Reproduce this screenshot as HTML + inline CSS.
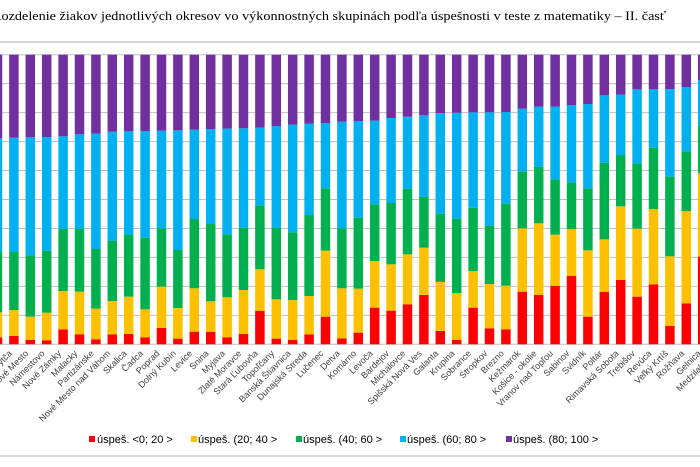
<!DOCTYPE html>
<html><head><meta charset="utf-8"><style>
html,body{margin:0;padding:0;background:#fff;width:700px;height:467px;overflow:hidden}
svg{display:block}
</style></head><body>
<svg id="c" width="700" height="467" xmlns="http://www.w3.org/2000/svg">
<text x="-8" y="20" font-family="Liberation Serif, serif" font-size="13" fill="#000" textLength="674" lengthAdjust="spacingAndGlyphs">Rozdelenie žiakov jednotlivých okresov vo výkonnostných skupinách podľa úspešnosti v teste z matematiky – II. časť</text>
<line x1="0" y1="42" x2="700" y2="42" stroke="#c8c8c8" stroke-width="1.5"/>
<line x1="0" y1="456" x2="700" y2="456" stroke="#c8c8c8" stroke-width="1.5"/>
<g id="grid"></g>
<g id="bars"></g>
<g id="labels" font-family="Liberation Sans, sans-serif" font-size="9" fill="#404040"></g>
<g font-family="Liberation Sans, sans-serif" font-size="11" fill="#000">
<rect x="89" y="436" width="6" height="6" fill="#ff0000"/><text x="97" y="443">úspeš. &lt;0; 20 &gt;</text>
<rect x="191" y="436" width="6" height="6" fill="#ffc000"/><text x="198" y="443">úspeš. (20; 40 &gt;</text>
<rect x="296" y="436" width="6" height="6" fill="#00b050"/><text x="303" y="443">úspeš. (40; 60 &gt;</text>
<rect x="400" y="436" width="6" height="6" fill="#00b0f0"/><text x="407" y="443">úspeš. (60; 80 &gt;</text>
<rect x="506" y="436" width="6" height="6" fill="#7030a0"/><text x="513" y="443">úspeš. (80; 100 &gt;</text>
</g>
</svg>
<script>
(function(){
var d=[[862,787,605,265],[858,780,606,263],[870,800,616,262],[871,788,602,261],[838,723,537,259],[853,725,536,253],[868,776,597,251],[853,753,572,245],[852,740,555,244],[862,778,563,243],[834,710,535,242],[866,774,600,241],
[845,715,507,239],[846,754,522,237],[862,742,553,236],[852,720,533,235],[783,658,466,233],[866,748,534,228],[870,750,547,224],[853,738,495,221],[800,602,415,219],[865,715,535,215],
[848,716,503,213],[773,633,463,212],[782,643,459,204],[763,613,416,200],[735,593,440,196],[843,696,491,189],[870,729,506,188],[773,663,473,187],[835,702,527,187],[838,707,461,186],[725,535,364,176],
[735,520,350,170],[708,554,388,170],[678,537,397,165],[800,601,415,162],[726,568,338,136],[690,469,315,134],[740,536,340,118],[703,477,293,118],[828,619,380,117],[760,483,304,111],[620,370,226,90]];
var names=["Bytča","Kysucké Nové Mesto","Námestovo","Nové Zámky","Malacky","Partizánske","Nové Mesto nad Váhom","Skalica","Čadca","Poprad","Dolný Kubín","Levice","Snina","Myjava","Zlaté Moravce","Stará Ľubovňa","Topoľčany","Banská Štiavnica","Dunajská Streda","Lučenec","Detva","Komárno","Levoča","Bardejov","Michalovce","Spišská Nová Ves","Galanta","Krupina","Sobrance","Stropkov","Brezno","Kežmarok","Košice - okolie","Vranov nad Topľou","Sabinov","Svidník","Poltár","Rimavská Sobota","Trebišov","Revúca","Veľký Krtíš","Rožňava","Gelnica","Medzilaborce"];
var NS="http://www.w3.org/2000/svg",g=document.getElementById('grid'),b=document.getElementById('bars'),L=document.getElementById('labels');
function el(p,t,a){var e=document.createElementNS(NS,t);for(var k in a)e.setAttribute(k,a[k]);p.appendChild(e);return e;}
var T=54.7,B=344.3,st=(B-T)/10;
for(var k=0;k<=10;k++){var y=T+st*k;el(g,'line',{x1:0,x2:700,y1:y,y2:y,stroke:'#bfbfbf','stroke-width':1});}
var cols=['#ff0000','#ffc000','#00b050','#00b0f0','#7030a0'];
var Y=function(z){return 50+z/3;};
d.forEach(function(r,i){var c=-2.5+16.4*i,x=c-4.75;
 var bs=[B,Y(r[0]),Y(r[1]),Y(r[2]),Y(r[3]),T];
 for(var s=0;s<5;s++){el(b,'rect',{x:x,y:bs[s+1],width:9.5,height:bs[s]-bs[s+1],fill:cols[s]});}
 var t=el(L,'text',{x:0,y:0,'text-anchor':'end',transform:'translate('+(c+15)+',354) rotate(-45)'});t.textContent=names[i];
});
})();
</script>
</body></html>
